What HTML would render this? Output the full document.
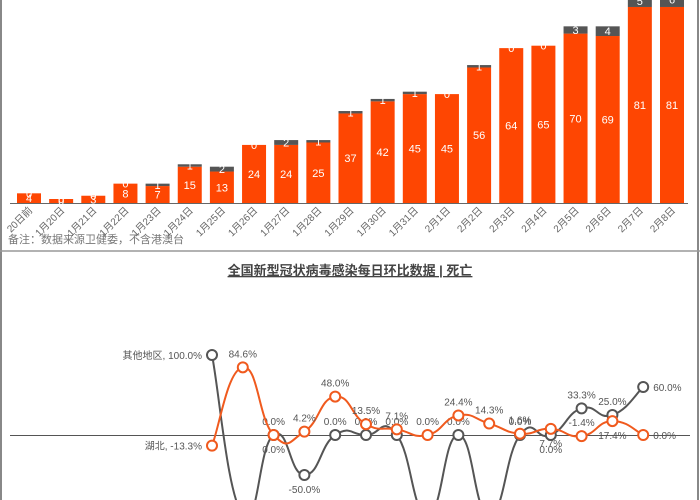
<!DOCTYPE html>
<html><head><meta charset="utf-8"><style>
html,body{margin:0;padding:0;background:#fff;}
body{width:700px;height:500px;overflow:hidden;position:relative;font-family:"Liberation Sans","Noto Sans CJK SC",sans-serif;}
svg{overflow:hidden;display:block;}
svg text{font-family:"Liberation Sans","Noto Sans CJK SC",sans-serif;}
</style></head><body>
<svg id="c" width="700" height="500" viewBox="0 0 700 500" xmlns="http://www.w3.org/2000/svg">
<line x1="1" y1="0" x2="1" y2="500" stroke="#888" stroke-width="2"/>
<line x1="698" y1="0" x2="698" y2="500" stroke="#888" stroke-width="2"/>
<line x1="0" y1="251" x2="700" y2="251" stroke="#999" stroke-width="1.5"/>
<line x1="10" y1="203.5" x2="688" y2="203.5" stroke="#666" stroke-width="1"/>
<text x="8" y="243" font-size="11" fill="#777">备注：数据来源卫健委，不含港澳台</text>
<text x="350" y="275" font-size="13" font-weight="bold" fill="#444" text-anchor="middle" text-decoration="underline">全国新型冠状病毒感染每日环比数据 | 死亡</text>
<line x1="10" y1="435.5" x2="690" y2="435.5" stroke="#555" stroke-width="1"/>
<g id="bars"></g><g id="lines"></g>
</svg>
<script>
const cats=["20日前","1月20日","1月21日","1月22日","1月23日","1月24日","1月25日","1月26日","1月27日","1月28日","1月29日","1月30日","1月31日","2月1日","2月2日","2月3日","2月4日","2月5日","2月6日","2月7日","2月8日"];
const hubeiDeaths=[4,0,3,8,7,15,13,24,24,25,37,42,45,45,56,64,65,70,69,81,81];
const otherDeaths=[0,0,0,0,1,1,2,0,2,1,1,1,1,0,1,0,0,3,4,5,6];
const hubeiPct=[-13.3,84.6,0,4.2,48.0,13.5,7.1,0,24.4,14.3,1.6,7.7,-1.4,17.4,0];
const otherPct=[100,-100,0,-50,0,0,0,-100,0,-100,0,0,33.3,25.0,60];
const NS="http://www.w3.org/2000/svg";
function mk(t,a,p){const e=document.createElementNS(NS,t);for(const k in a)e.setAttribute(k,a[k]);p.appendChild(e);return e;}
const bx=i=>29+i*32.15, by=v=>203-v*2.42;
const gb=document.getElementById('bars');
cats.forEach((c,i)=>{
  const x=bx(i)-12;
  let h=Math.max(hubeiDeaths[i]*2.42,4);
  const r=mk('rect',{x:x,y:203-h,width:24,height:h,fill:'#fe4602'},gb);
  
  
  const gh=otherDeaths[i]*2.42;
  const g=mk('rect',{x:x,y:203-h-gh,width:24,height:gh,fill:'#555'},gb);
  
  
  const t1=mk('text',{x:bx(i),y:203-h/2+4,'font-size':11,fill:'#fff','text-anchor':'middle'},gb);t1.textContent=hubeiDeaths[i];
  
  
  const t2=mk('text',{x:bx(i),y:203-h-gh/2+4,'font-size':11,fill:'#fff','text-anchor':'middle'},gb);t2.textContent=otherDeaths[i];
  
  
  const tl=mk('text',{x:bx(i)+4,y:211,'font-size':10,fill:'#666','text-anchor':'end',transform:`rotate(-45 ${bx(i)+4} 211)`},gb);tl.textContent=c;
  
  
});
const lx=i=>212+i*30.8, ly=v=>435-v*0.8;
function path(vals){
  const p=vals.map((v,i)=>[lx(i),ly(v)]);let d=`M${p[0][0]},${p[0][1]}`;
  for(let i=0;i<p.length-1;i++){const p0=p[i-1]||p[i],p1=p[i],p2=p[i+1],p3=p[i+2]||p2;const s=0.3;
    d+=` C${p1[0]+(p2[0]-p0[0])*s/1.2},${p1[1]+(p2[1]-p0[1])*s/1.2} ${p2[0]-(p3[0]-p1[0])*s/1.2},${p2[1]-(p3[1]-p1[1])*s/1.2} ${p2[0]},${p2[1]}`;}
  return d;}
const gl=document.getElementById('lines');
function series(vals,col,name,label,above){
  const pa=mk('path',{d:path(vals),fill:'none',stroke:col,'stroke-width':2},gl);
  
  
  vals.forEach((v,i)=>{
    const c=mk('circle',{cx:lx(i),cy:ly(v),r:5,fill:'#fff',stroke:col,'stroke-width':2},gl);
    
    
    let txt=v.toFixed(1)+'%',x=lx(i),y=above[i]?ly(v)-10:ly(v)+18,anc='middle';
    if(i===0){txt=label+', '+txt;x=lx(i)-10;y=ly(v)+4;anc='end';}
    if(i===vals.length-1){x=lx(i)+10;y=ly(v)+4;anc='start';}
    const t=mk('text',{x:x,y:y,'font-size':10,fill:'#555','text-anchor':anc},gl);t.textContent=txt;
    
    
  });
}
series(otherPct,'#555','other-regions','其他地区',[1,0,1,0,1,1,1,0,1,0,1,0,1,1,1]);
series(hubeiPct,'#f05a1e','hubei','湖北',[1,1,0,1,1,1,1,1,1,1,1,0,1,0,1]);
</script>
</body></html>
